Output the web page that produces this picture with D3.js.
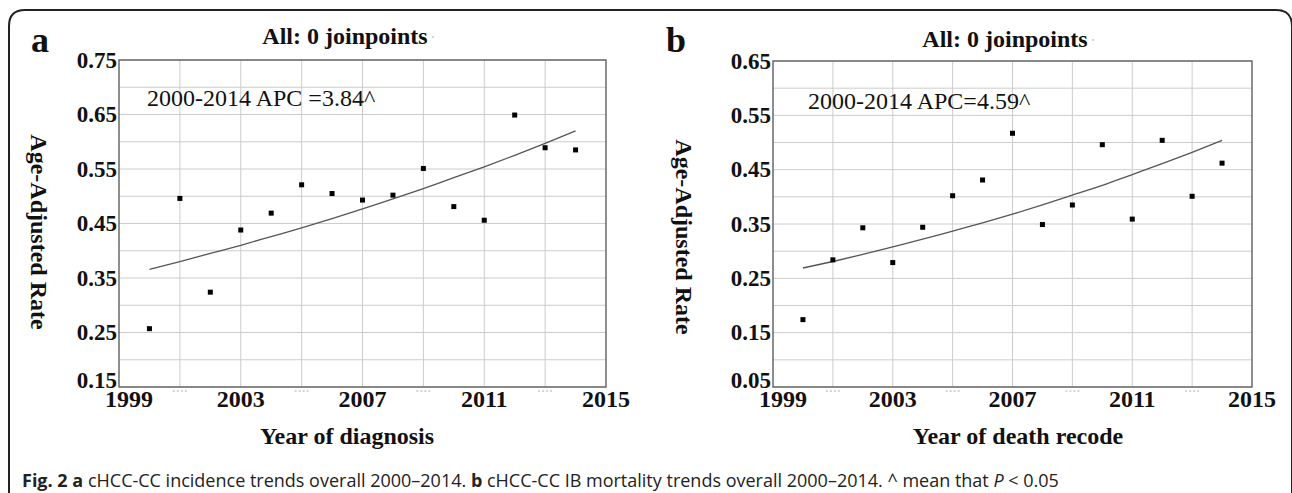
<!DOCTYPE html>
<html>
<head>
<meta charset="utf-8">
<script src="https://cdn.jsdelivr.net/npm/d3@7"></script>
<style>
  body { margin: 0; background: #fff; }
  svg { display: block; }
  .serif { font-family: 'Liberation Serif', 'Times New Roman', serif; fill: #111; }
  .caption { font-family: 'Open Sans', sans-serif; fill: #222; }
</style>
</head>
<body>
<svg id="chart" width="1292" height="493"></svg>
<script>
// values
var years = [2000, 2001, 2002, 2003, 2004, 2005, 2006, 2007, 2008, 2009, 2010, 2011, 2012, 2013, 2014];
var incidenceRates = [0.257, 0.496, 0.324, 0.438, 0.469, 0.521, 0.505, 0.493, 0.502, 0.551, 0.481, 0.456, 0.649, 0.589, 0.585];
var incidenceFit = [0.366, 0.380, 0.395, 0.410, 0.426, 0.442, 0.459, 0.477, 0.495, 0.514, 0.534, 0.554, 0.575, 0.597, 0.620];
var mortalityRates = [0.174, 0.284, 0.343, 0.279, 0.344, 0.402, 0.431, 0.517, 0.349, 0.385, 0.496, 0.359, 0.504, 0.401, 0.462];
var mortalityFit = [0.269, 0.281, 0.294, 0.308, 0.322, 0.337, 0.352, 0.368, 0.385, 0.403, 0.421, 0.441, 0.461, 0.482, 0.504];
var incidenceTicks = [0.15, 0.25, 0.35, 0.45, 0.55, 0.65, 0.75];
var mortalityTicks = [0.05, 0.15, 0.25, 0.35, 0.45, 0.55, 0.65];
var yearTicks = [1999, 2003, 2007, 2011, 2015];
var hiddenYearTicks = [2001, 2005, 2009, 2013];

var svg = d3.select('#chart');

// open frame round the figure
svg.append('path')
  .attr('d', 'M9,493 L9,26 Q9,10 25,10 L1276,10 Q1292,10 1292,26 L1292,493')
  .attr('fill', 'none')
  .attr('stroke', '#222')
  .attr('stroke-width', 2);

function drawPanel(opts) {
  var g = svg.append('g');
  var x = d3.scaleLinear().domain([1999, 2015]).range([opts.left, opts.right]);
  var y = d3.scaleLinear().domain(opts.yDomain).range([opts.bottom, opts.top]);

  // grid: every 0.05 and every 2 years
  var yGrid = d3.range(opts.yDomain[0], opts.yDomain[1] + 0.001, 0.05);
  g.append('g').selectAll('line').data(yGrid).enter().append('line')
    .attr('x1', opts.left).attr('x2', opts.right)
    .attr('y1', function (d) { return y(d); }).attr('y2', function (d) { return y(d); })
    .attr('stroke', '#cccccc').attr('stroke-width', 1);
  g.append('g').selectAll('line').data(d3.range(2001, 2015, 2)).enter().append('line')
    .attr('y1', opts.top).attr('y2', opts.bottom)
    .attr('x1', function (d) { return x(d); }).attr('x2', function (d) { return x(d); })
    .attr('stroke', '#cccccc').attr('stroke-width', 1);

  g.append('rect')
    .attr('x', opts.left).attr('y', opts.top)
    .attr('width', opts.right - opts.left).attr('height', opts.bottom - opts.top)
    .attr('fill', 'none').attr('stroke', '#6a6a6a').attr('stroke-width', 1.5);

  // y tick labels; the lowest one sits a little higher, clear of the first year
  g.append('g').selectAll('text').data(opts.yTicks).enter().append('text')
    .classed('serif', true)
    .attr('x', opts.left - 2)
    .attr('y', function (d, i) { return y(d) + 7.5 - (i === 0 ? 7 : 0); })
    .attr('text-anchor', 'end')
    .style('font-size', '23px').style('font-weight', 'bold')
    .text(function (d) { return d3.format('.2f')(d); });

  // x tick labels, first one nudged right as in the figure
  g.append('g').selectAll('text').data(yearTicks).enter().append('text')
    .classed('serif', true)
    .attr('x', function (d, i) { return x(d) + (i === 0 ? 10 : 0); })
    .attr('y', opts.bottom + 20)
    .attr('text-anchor', 'middle')
    .style('font-size', '24px').style('font-weight', 'bold')
    .text(function (d) { return d; });

  // faint dotted stubs where the odd-year labels were hidden
  g.append('g').selectAll('line').data(hiddenYearTicks).enter().append('line')
    .attr('x1', function (d) { return x(d) - 7; }).attr('x2', function (d) { return x(d) + 7; })
    .attr('y1', opts.bottom + 4).attr('y2', opts.bottom + 4)
    .attr('stroke', '#aaa').attr('stroke-width', 1).attr('stroke-dasharray', '2,2');

  // fitted trend
  var line = d3.line()
    .x(function (d, i) { return x(years[i]); })
    .y(function (d) { return y(d); })
    .curve(d3.curveMonotoneX);
  g.append('path').datum(opts.fit)
    .attr('d', line)
    .attr('fill', 'none').attr('stroke', '#555').attr('stroke-width', 1.3);

  // observed rates
  g.append('g').selectAll('rect').data(opts.rates).enter().append('rect')
    .attr('x', function (d, i) { return x(years[i]) - 2.5; })
    .attr('y', function (d) { return y(d) - 2.5; })
    .attr('width', 5).attr('height', 5)
    .attr('fill', '#000');

  // texts
  g.append('text').classed('serif', true)
    .attr('x', opts.titleX).attr('y', opts.titleY)
    .attr('text-anchor', 'middle')
    .style('font-size', '24px').style('font-weight', 'bold')
    .text('All: 0 joinpoints');
  g.append('circle')
    .attr('cx', opts.titleX + 88).attr('cy', opts.titleY - 7).attr('r', 0.8)
    .attr('fill', '#999');

  g.append('text').classed('serif', true)
    .attr('x', opts.left + opts.apcDx).attr('y', opts.apcY)
    .style('font-size', '24px')
    .text(opts.apc);

  g.append('text').classed('serif', true)
    .attr('x', opts.letterX).attr('y', 52)
    .style('font-size', '36px').style('font-weight', 'bold')
    .text(opts.letter);

  g.append('text').classed('serif', true)
    .attr('transform', 'translate(' + opts.yTitleX + ',' + opts.yTitleY + ') rotate(90)')
    .attr('text-anchor', 'middle')
    .style('font-size', '24px').style('font-weight', 'bold')
    .text('Age-Adjusted Rate');

  g.append('text').classed('serif', true)
    .attr('x', opts.xTitleX).attr('y', 444)
    .attr('text-anchor', 'middle')
    .style('font-size', '24px').style('font-weight', 'bold')
    .text(opts.xTitle);
}

drawPanel({
  left: 119, right: 606, top: 60, bottom: 387,
  yDomain: [0.15, 0.75], yTicks: incidenceTicks,
  rates: incidenceRates, fit: incidenceFit,
  titleX: 345, titleY: 44,
  apc: '2000-2014 APC =3.84^', apcDx: 28, apcY: 106,
  letter: 'a', letterX: 31,
  yTitleX: 31, yTitleY: 232,
  xTitle: 'Year of diagnosis', xTitleX: 347
});

drawPanel({
  left: 773, right: 1252, top: 61, bottom: 387,
  yDomain: [0.05, 0.65], yTicks: mortalityTicks,
  rates: mortalityRates, fit: mortalityFit,
  titleX: 1005, titleY: 47,
  apc: '2000-2014 APC=4.59^', apcDx: 35, apcY: 109,
  letter: 'b', letterX: 666,
  yTitleX: 676, yTitleY: 237,
  xTitle: 'Year of death recode', xTitleX: 1018
});

// figure caption
var cap = svg.append('text').classed('caption', true)
  .attr('x', 22).attr('y', 487)
  .style('font-size', '18px');
cap.append('tspan').style('font-weight', 'bold').text('Fig. 2');
cap.append('tspan').text(' ');
cap.append('tspan').style('font-weight', 'bold').text('a');
cap.append('tspan').text(' cHCC-CC incidence trends overall 2000\u20132014. ');
cap.append('tspan').style('font-weight', 'bold').text('b');
cap.append('tspan').text(' cHCC-CC IB mortality trends overall 2000\u20132014. ^ mean that ');
cap.append('tspan').style('font-style', 'italic').text('P');
cap.append('tspan').text(' < 0.05');
</script>
</body>
</html>
